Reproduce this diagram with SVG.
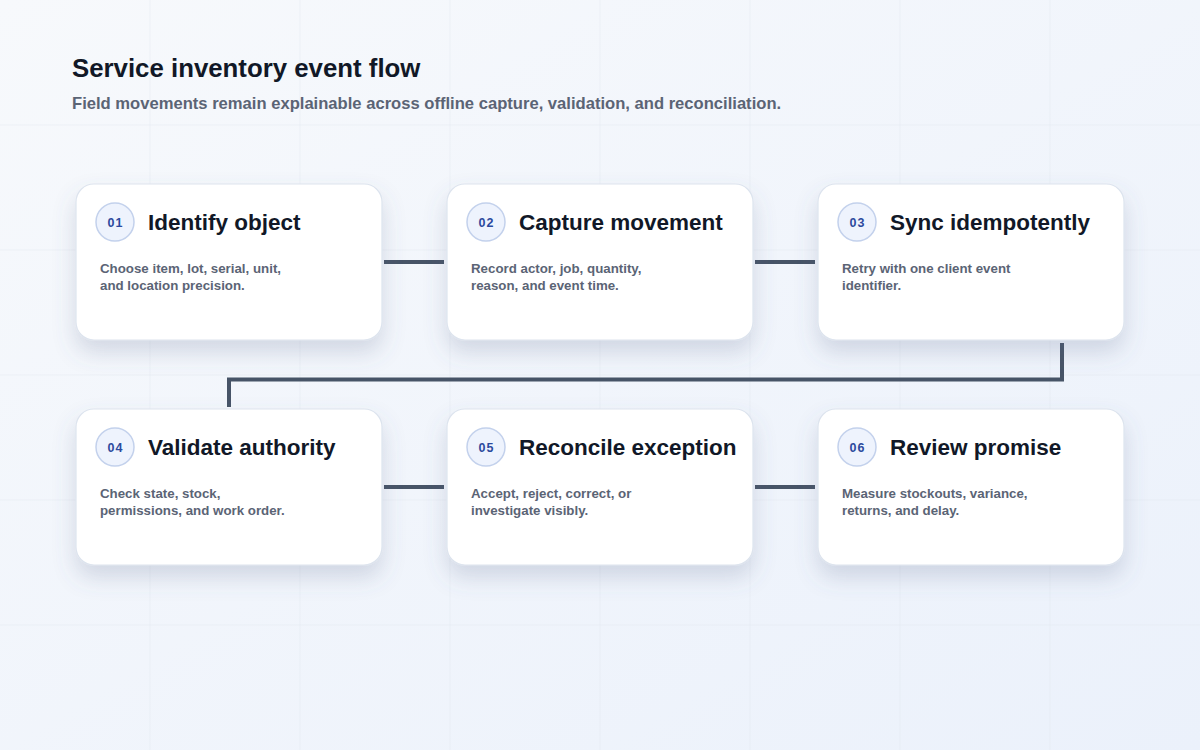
<svg xmlns="http://www.w3.org/2000/svg" width="1200" height="750" viewBox="0 0 1200 750">
  <defs>
    <linearGradient id="bg" x1="0" y1="0" x2="1" y2="1">
      <stop offset="0" stop-color="#f7f9fc"/>
      <stop offset="1" stop-color="#ebf1fb"/>
    </linearGradient>
    <filter id="shadow" x="-20%" y="-20%" width="140%" height="160%">
      <feDropShadow dx="0" dy="12" stdDeviation="11" flood-color="#5b6b8c" flood-opacity="0.22"/>
    </filter>
    <style>
      .grid line { stroke: #dfe5ee; stroke-width: 1; opacity: 0.4; }
      .card { fill: #ffffff; stroke: #dde4ee; stroke-width: 1.2; filter: url(#shadow); }
      .badge { fill: #eef3fd; stroke: #c3d1ec; stroke-width: 1.5; }
      .num { font-family: "Liberation Sans", Arial, sans-serif; font-size: 12.5px; font-weight: 700; fill: #2c4a9e; letter-spacing: 1px; text-anchor: middle; }
      .title { font-family: "Liberation Sans", Arial, sans-serif; font-size: 22.5px; font-weight: 700; fill: #111827; }
      .body { font-family: "Liberation Sans", Arial, sans-serif; font-size: 13.3px; font-weight: 700; fill: #5b6475; }
      .conn { fill: none; stroke: #475467; stroke-width: 4; stroke-linejoin: miter; stroke-linecap: butt; }
      .h1 { font-family: "Liberation Sans", Arial, sans-serif; font-size: 25.8px; font-weight: 700; fill: #111827; }
      .sub { font-family: "Liberation Sans", Arial, sans-serif; font-size: 16.6px; font-weight: 700; fill: #5b6475; }
    </style>
  </defs>

  <rect x="0" y="0" width="1200" height="750" fill="url(#bg)"/>
  <g class="grid">
    <line x1="150" y1="0" x2="150" y2="750"/>
    <line x1="300" y1="0" x2="300" y2="750"/>
    <line x1="450" y1="0" x2="450" y2="750"/>
    <line x1="600" y1="0" x2="600" y2="750"/>
    <line x1="750" y1="0" x2="750" y2="750"/>
    <line x1="900" y1="0" x2="900" y2="750"/>
    <line x1="1050" y1="0" x2="1050" y2="750"/>
    <line x1="0" y1="125" x2="1200" y2="125"/>
    <line x1="0" y1="250" x2="1200" y2="250"/>
    <line x1="0" y1="375" x2="1200" y2="375"/>
    <line x1="0" y1="500" x2="1200" y2="500"/>
    <line x1="0" y1="625" x2="1200" y2="625"/>
  </g>

  <g id="header">
    <text class="h1" x="72" y="77">Service inventory event flow</text>
    <text class="sub" x="72" y="109">Field movements remain explainable across offline capture, validation, and reconciliation.</text>
  </g>

  <g id="connectors">
    <path class="conn" d="M384 262 H444"/>
    <path class="conn" d="M755 262 H815"/>
    <path class="conn" d="M1062 343 V379.5 H229 V407"/>
    <path class="conn" d="M384 487 H444"/>
    <path class="conn" d="M755 487 H815"/>
  </g>

  <g id="node-01">
    <rect class="card" x="76" y="184" width="306" height="156" rx="18"/>
    <circle class="badge" cx="115" cy="222" r="19"/>
    <text class="num" x="115.5" y="226.5">01</text>
    <text class="title" x="148" y="229.5">Identify object</text>
    <text class="body" x="100" y="273">Choose item, lot, serial, unit,</text>
    <text class="body" x="100" y="290">and location precision.</text>
  </g>

  <g id="node-02">
    <rect class="card" x="447" y="184" width="306" height="156" rx="18"/>
    <circle class="badge" cx="486" cy="222" r="19"/>
    <text class="num" x="486.5" y="226.5">02</text>
    <text class="title" x="519" y="229.5">Capture movement</text>
    <text class="body" x="471" y="273">Record actor, job, quantity,</text>
    <text class="body" x="471" y="290">reason, and event time.</text>
  </g>

  <g id="node-03">
    <rect class="card" x="818" y="184" width="306" height="156" rx="18"/>
    <circle class="badge" cx="857" cy="222" r="19"/>
    <text class="num" x="857.5" y="226.5">03</text>
    <text class="title" x="890" y="229.5">Sync idempotently</text>
    <text class="body" x="842" y="273">Retry with one client event</text>
    <text class="body" x="842" y="290">identifier.</text>
  </g>

  <g id="node-04">
    <rect class="card" x="76" y="409" width="306" height="156" rx="18"/>
    <circle class="badge" cx="115" cy="447" r="19"/>
    <text class="num" x="115.5" y="451.5">04</text>
    <text class="title" x="148" y="454.5">Validate authority</text>
    <text class="body" x="100" y="498">Check state, stock,</text>
    <text class="body" x="100" y="515">permissions, and work order.</text>
  </g>

  <g id="node-05">
    <rect class="card" x="447" y="409" width="306" height="156" rx="18"/>
    <circle class="badge" cx="486" cy="447" r="19"/>
    <text class="num" x="486.5" y="451.5">05</text>
    <text class="title" x="519" y="454.5">Reconcile exception</text>
    <text class="body" x="471" y="498">Accept, reject, correct, or</text>
    <text class="body" x="471" y="515">investigate visibly.</text>
  </g>

  <g id="node-06">
    <rect class="card" x="818" y="409" width="306" height="156" rx="18"/>
    <circle class="badge" cx="857" cy="447" r="19"/>
    <text class="num" x="857.5" y="451.5">06</text>
    <text class="title" x="890" y="454.5">Review promise</text>
    <text class="body" x="842" y="498">Measure stockouts, variance,</text>
    <text class="body" x="842" y="515">returns, and delay.</text>
  </g>
</svg>
